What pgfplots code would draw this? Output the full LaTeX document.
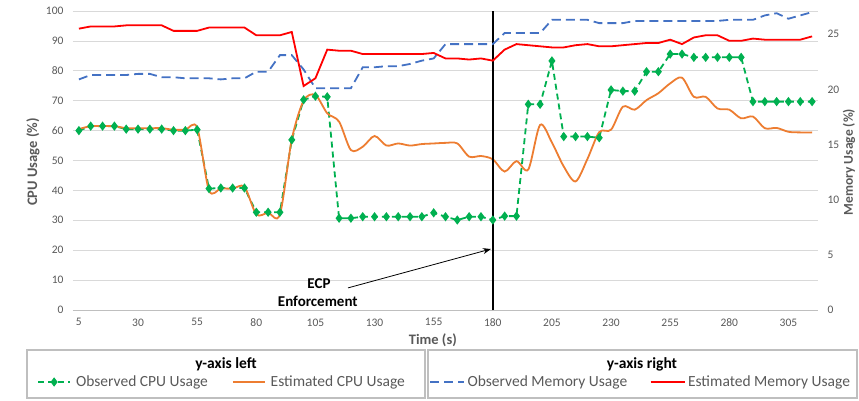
\documentclass[border=0pt]{standalone}
\usepackage{pgfplots}
\pgfplotsset{compat=1.18}
\usepackage{pgfplotstable}
\usepackage{fontspec}
\setmainfont{Carlito}
\usetikzlibrary{arrows.meta}

\definecolor{cgreen}{HTML}{00B050}
\definecolor{corange}{HTML}{ED7D31}
\definecolor{cblue}{HTML}{4472C4}
\definecolor{cred}{HTML}{FF0000}
\definecolor{gridgray}{HTML}{D9D9D9}
\definecolor{axisgray}{HTML}{BFBFBF}
\definecolor{tickgray}{HTML}{595959}

% time, observed/estimated CPU (left), observed/estimated memory (right)
\pgfplotstableread{
x oc ec om em
5 60 60.5 20.9 25.5
10 61.5 61.5 21.3 25.7
15 61.5 61.5 21.3 25.7
20 61.5 61.5 21.3 25.7
25 60.5 60.8 21.3 25.8
30 60.5 60.8 21.4 25.8
35 60.5 60.8 21.4 25.8
40 60.5 60.8 21.1 25.8
45 60 60.3 21.1 25.3
50 60 60.3 21.0 25.3
55 60.3 61 21.0 25.3
60 40.6 40 21.0 25.6
65 40.8 40.6 20.9 25.6
70 40.8 40.6 21.0 25.6
75 40.8 41.2 21.0 25.6
80 32.7 32 21.6 24.9
85 32.7 32.5 21.6 24.9
90 32.7 32 23.1 24.9
95 56.9 57 23.1 25.2
100 70.3 70 21.8 20.3
105 71.5 71.9 20.1 21.0
110 71.3 65.8 20.1 23.6
115 30.7 63 20.1 23.5
120 30.7 53.5 20.1 23.5
125 31.2 54.6 22.0 23.2
130 31.2 58.2 22.0 23.2
135 31.2 55 22.1 23.2
140 31.2 55.7 22.1 23.2
145 31.2 55 22.3 23.2
150 31.2 55.5 22.6 23.2
155 32.5 55.7 22.8 23.3
160 31.2 55.9 24.1 22.8
165 30.1 55.7 24.1 22.8
170 31.2 51.3 24.1 22.7
175 31.2 51.5 24.1 22.8
180 30.1 50.4 24.1 22.6
185 31.4 46.3 25.1 23.6
190 31.4 49.8 25.1 24.1
195 68.8 47 25.1 24.0
200 68.8 61.9 25.1 23.9
205 83.3 56 26.3 23.8
210 58 48 26.3 23.8
215 58 43 26.3 24.0
220 58 50.5 26.3 24.1
225 57.6 59.5 26.0 23.9
230 73.6 60.3 26.0 23.9
235 73.2 68 26.0 24.0
240 73.2 67 26.2 24.1
245 79.7 70.2 26.2 24.2
250 79.7 72.5 26.2 24.2
255 85.6 75.8 26.2 24.5
260 85.6 77.7 26.2 24.1
265 84.5 71.3 26.2 24.7
270 84.5 71.3 26.2 24.9
275 84.5 67.4 26.2 24.9
280 84.5 67 26.3 24.4
285 84.5 64.1 26.3 24.4
290 69.7 64.7 26.3 24.6
295 69.7 60.8 26.7 24.5
300 69.7 60.9 26.9 24.5
305 69.7 59.6 26.4 24.5
310 69.7 59.4 26.7 24.5
315 69.7 59.4 27.0 24.8
}\usage

\pgfplotsset{
  base/.style={
    scale only axis, width=745pt, height=299pt,
    at={(0,0)}, anchor=south west,
    xmin=2.5, xmax=317.5,
    axis line style={draw=none}, tick style={draw=none},
    ticklabel style={font=\fontsize{11.5}{12}\selectfont, text=tickgray},
    /pgf/number format/assume math mode=true,
    clip=false,
    legend columns=2,
  },
  legbase/.style={draw=none, fill=none, inner sep=0pt, anchor=west,
    font=\fontsize{15.5}{16}\selectfont, text=tickgray},
}

\begin{document}
\begin{tikzpicture}
\begin{axis}[base,
  ymin=0, ymax=100, ytick={0,10,...,100},
  xtick={5,30,...,305},
  ymajorgrids, grid style={gridgray, line width=0.8pt},
  yticklabel shift=6pt, xticklabel shift=5pt,
  ylabel={CPU Usage (\%)},
  ylabel style={at={(axis description cs:-0.0537,0.495)}, anchor=center, font=\bfseries\fontsize{14.5}{15}\selectfont, text=tickgray},
  xlabel={Time (s)},
  xlabel style={at={(axis description cs:0.483,-0.1003)}, anchor=center, font=\bfseries\fontsize{14.5}{15}\selectfont, text=tickgray},
  legend style={legbase, at={(axis description cs:-0.0483,-0.2408)},
    nodes={inner xsep=5pt, inner ysep=1pt},
    /tikz/every even column/.append style={column sep=19pt}},
  legend image code/.code={\draw[mark repeat=2,mark phase=2,#1] plot coordinates {(0pt,0pt) (16pt,0pt) (32pt,0pt)};},
]
\draw[axisgray, line width=1pt] (axis cs:2.5,0) -- (axis cs:317.5,0);
\addplot[cgreen, line width=1.8pt, dash pattern=on 6pt off 4pt, mark=diamond*, mark size=3.2pt, mark options={solid}] table[x=x, y=oc] {\usage};
\addlegendentry{Observed CPU Usage}
\addplot[corange, line width=1.8pt, smooth, tension=0.5] table[x=x, y=ec] {\usage};
\addlegendentry{Estimated CPU Usage}
\addplot[black, line width=1.8pt, forget plot] coordinates {(180,0) (180,100)};
\draw[-{Stealth[length=8pt,width=6pt]}, line width=0.8pt] (axis cs:118.8,7.4) -- (axis cs:179.2,20.4);
\node[font=\bfseries\fontsize{15}{16}\selectfont] at (axis cs:106.5,8.7) {ECP};
\node[font=\bfseries\fontsize{15}{16}\selectfont] at (axis cs:106,3.0) {Enforcement};
\end{axis}
\begin{axis}[base,
  ymin=0, ymax=27.1, ytick={0,5,...,25},
  xtick=\empty, yticklabel pos=right,
  yticklabel shift=6pt,
  ylabel={Memory Usage (\%)},
  ylabel style={at={(axis description cs:1.0417,0.495)}, anchor=center, font=\bfseries\fontsize{13.5}{14}\selectfont, text=tickgray},
  legend style={legbase, at={(axis description cs:0.4779,-0.2408)},
    nodes={inner xsep=2.5pt, inner ysep=1pt},
    /tikz/every even column/.append style={column sep=20pt}},
  legend image code/.code={\draw[mark repeat=2,mark phase=2,#1] plot coordinates {(0pt,0pt) (17pt,0pt) (34pt,0pt)};},
]
\addplot[cblue, line width=1.8pt, dash pattern=on 9pt off 5pt] table[x=x, y=om] {\usage};
\addlegendentry{Observed Memory Usage}
\addplot[cred, line width=1.8pt] table[x=x, y=em] {\usage};
\addlegendentry{Estimated Memory Usage}
\end{axis}
\begin{scope}[x=1pt, y=-1pt, shift={(-73pt,310pt)}]
\draw[axisgray, line width=1.3pt] (27,350) rectangle (425,398);
\draw[axisgray, line width=1.3pt] (428,350) rectangle (857,398);
\node[font=\bfseries\fontsize{15.5}{16}\selectfont] at (226,364) {y-axis left};
\node[font=\bfseries\fontsize{15.5}{16}\selectfont] at (642,364) {y-axis right};
\pgfresetboundingbox
\path[use as bounding box] (0,0) rectangle (859,400);
\end{scope}
\end{tikzpicture}
\end{document}
